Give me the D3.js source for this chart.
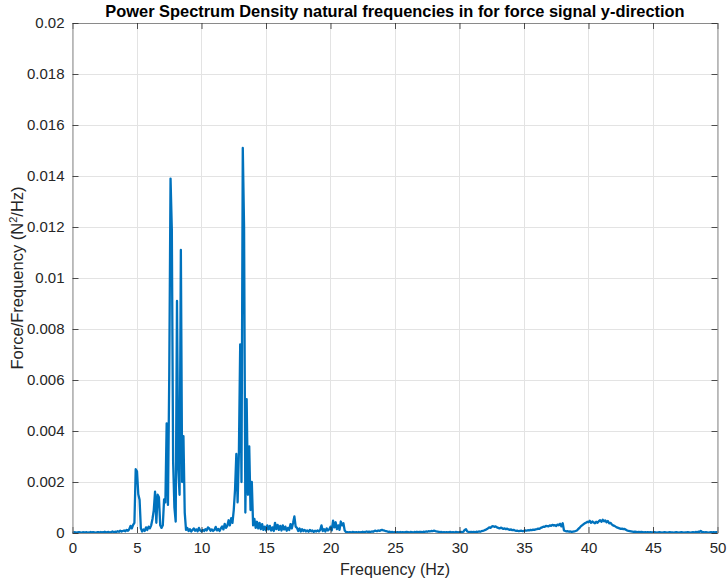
<!DOCTYPE html>
<html>
<head>
<meta charset="utf-8">
<script src="https://cdn.jsdelivr.net/npm/d3@7"></script>
<style>
  html, body { margin: 0; padding: 0; background: #fff; }
  svg { display: block; font-family: "Liberation Sans", Arial, Helvetica, sans-serif; }
</style>
</head>
<body>
<svg id="chart" width="727" height="579"></svg>
<script>
// PSD of the y-direction force signal, sampled every 0.1 Hz from 0 to 50 Hz (N^2/Hz)
const freqStep = 0.1;
const psd = [
  0.00004,0.00002,0.00003,0.00001,0.00002,0.00003,0.00002,0.00001,0.00003,0.00002, // 0 Hz
  0.00002,0.00003,0.00001,0.00002,0.00004,0.00002,0.00003,0.00002,0.00001,0.00003, // 1
  0.00003,0.00002,0.00004,0.00002,0.00003,0.00005,0.00002,0.00003,0.00004,0.00002, // 2
  0.00004,0.00006,0.00003,0.00005,0.00004,0.00007,0.00005,0.00009,0.00006,0.00008, // 3
  0.00010,0.00007,0.00012,0.00009,0.00015,0.00028,0.00018,0.00032,0.00040,0.00250, // 4
  0.00242,0.00152,0.00130,0.00018,0.00006,0.00014,0.00008,0.00022,0.00012,0.00025, // 5
  0.00018,0.00030,0.00055,0.00090,0.00162,0.00040,0.00150,0.00140,0.00030,0.00020, // 6
  0.00030,0.00132,0.00120,0.00430,0.00110,0.00620,0.01390,0.01190,0.00280,0.00100, // 7
  0.00045,0.00910,0.00250,0.00150,0.01110,0.00200,0.00380,0.00080,0.00012,0.00020, // 8
  0.00008,0.00015,0.00006,0.00012,0.00018,0.00009,0.00014,0.00007,0.00020,0.00010, // 9
  0.00006,0.00012,0.00008,0.00015,0.00010,0.00022,0.00018,0.00009,0.00014,0.00008, // 10
  0.00012,0.00024,0.00010,0.00016,0.00008,0.00018,0.00026,0.00014,0.00036,0.00020, // 11
  0.00028,0.00050,0.00030,0.00058,0.00040,0.00090,0.00170,0.00310,0.00120,0.00320, // 12
  0.00740,0.00200,0.01510,0.01200,0.00080,0.00525,0.00150,0.00340,0.00090,0.00200, // 13
  0.00030,0.00055,0.00020,0.00044,0.00018,0.00040,0.00015,0.00035,0.00012,0.00025, // 14
  0.00010,0.00030,0.00014,0.00028,0.00010,0.00022,0.00008,0.00040,0.00015,0.00032, // 15
  0.00012,0.00028,0.00010,0.00030,0.00014,0.00025,0.00009,0.00020,0.00012,0.00035, // 16
  0.00018,0.00040,0.00065,0.00025,0.00020,0.00008,0.00018,0.00006,0.00015,0.00008, // 17
  0.00012,0.00006,0.00010,0.00005,0.00012,0.00007,0.00010,0.00004,0.00009,0.00006, // 18
  0.00010,0.00006,0.00012,0.00030,0.00008,0.00015,0.00006,0.00018,0.00010,0.00014, // 19
  0.00025,0.00010,0.00048,0.00022,0.00042,0.00015,0.00030,0.00012,0.00045,0.00030, // 20
  0.00038,0.00010,0.00004,0.00003,0.00002,0.00003,0.00002,0.00004,0.00003,0.00002, // 21
  0.00003,0.00002,0.00004,0.00002,0.00003,0.00005,0.00003,0.00004,0.00006,0.00004, // 22
  0.00005,0.00004,0.00006,0.00005,0.00008,0.00009,0.00007,0.00010,0.00008,0.00011, // 23
  0.00012,0.00010,0.00009,0.00007,0.00006,0.00004,0.00005,0.00003,0.00004,0.00002, // 24
  0.00003,0.00002,0.00003,0.00002,0.00004,0.00002,0.00003,0.00002,0.00003,0.00004, // 25
  0.00003,0.00002,0.00004,0.00003,0.00002,0.00004,0.00003,0.00005,0.00003,0.00004, // 26
  0.00004,0.00003,0.00005,0.00004,0.00006,0.00005,0.00007,0.00006,0.00008,0.00007, // 27
  0.00009,0.00008,0.00006,0.00005,0.00004,0.00003,0.00004,0.00002,0.00003,0.00002, // 28
  0.00003,0.00002,0.00003,0.00004,0.00002,0.00003,0.00002,0.00004,0.00003,0.00002, // 29
  0.00003,0.00004,0.00003,0.00005,0.00012,0.00015,0.00006,0.00004,0.00003,0.00004, // 30
  0.00003,0.00004,0.00003,0.00005,0.00004,0.00006,0.00005,0.00007,0.00008,0.00010, // 31
  0.00012,0.00015,0.00018,0.00022,0.00020,0.00025,0.00027,0.00024,0.00026,0.00022, // 32
  0.00020,0.00018,0.00021,0.00019,0.00016,0.00018,0.00015,0.00017,0.00014,0.00012, // 33
  0.00014,0.00011,0.00012,0.00010,0.00008,0.00009,0.00007,0.00008,0.00009,0.00007, // 34
  0.00008,0.00010,0.00009,0.00011,0.00010,0.00012,0.00011,0.00013,0.00012,0.00014, // 35
  0.00015,0.00017,0.00016,0.00020,0.00022,0.00025,0.00024,0.00028,0.00027,0.00026, // 36
  0.00030,0.00028,0.00032,0.00029,0.00031,0.00027,0.00033,0.00030,0.00036,0.00026, // 37
  0.00038,0.00010,0.00008,0.00006,0.00007,0.00005,0.00006,0.00004,0.00005,0.00006, // 38
  0.00008,0.00010,0.00015,0.00020,0.00026,0.00030,0.00034,0.00038,0.00040,0.00044, // 39
  0.00042,0.00048,0.00040,0.00045,0.00041,0.00038,0.00044,0.00040,0.00046,0.00050, // 40
  0.00044,0.00052,0.00046,0.00049,0.00042,0.00047,0.00038,0.00040,0.00034,0.00030, // 41
  0.00028,0.00025,0.00022,0.00020,0.00018,0.00016,0.00017,0.00015,0.00016,0.00013, // 42
  0.00010,0.00008,0.00007,0.00006,0.00005,0.00004,0.00005,0.00004,0.00003,0.00004, // 43
  0.00003,0.00004,0.00003,0.00002,0.00003,0.00002,0.00003,0.00002,0.00003,0.00002, // 44
  0.00002,0.00003,0.00002,0.00001,0.00002,0.00003,0.00002,0.00001,0.00002,0.00003, // 45
  0.00002,0.00001,0.00002,0.00003,0.00002,0.00002,0.00001,0.00002,0.00003,0.00002, // 46
  0.00001,0.00002,0.00003,0.00002,0.00001,0.00002,0.00002,0.00003,0.00002,0.00001, // 47
  0.00002,0.00003,0.00002,0.00004,0.00003,0.00005,0.00004,0.00008,0.00004,0.00003, // 48
  0.00002,0.00003,0.00002,0.00001,0.00002,0.00003,0.00002,0.00003,0.00002,0.00003, // 49
  0.00002                                                                          // 50
];

const xTicks = [0, 5, 10, 15, 20, 25, 30, 35, 40, 45, 50];
const xTickLabels = ["0", "5", "10", "15", "20", "25", "30", "35", "40", "45", "50"];
const yTicks = [0, 0.002, 0.004, 0.006, 0.008, 0.01, 0.012, 0.014, 0.016, 0.018, 0.02];
const yTickLabels = ["0", "0.002", "0.004", "0.006", "0.008", "0.01", "0.012", "0.014", "0.016", "0.018", "0.02"];

const titleText = "Power Spectrum Density natural frequencies in for force signal y-direction";
const xLabelText = "Frequency (Hz)";

const margin = { top: 23, right: 9.5, bottom: 46, left: 72.5 };
const W = 727, H = 579;
const innerW = W - margin.left - margin.right;
const innerH = H - margin.top - margin.bottom;

const svg = d3.select("#chart");
const g = svg.append("g").attr("transform", `translate(${margin.left},${margin.top})`);

const x = d3.scaleLinear().domain([0, 50]).range([0, innerW]);
const y = d3.scaleLinear().domain([0, 0.02]).range([innerH, 0]);

const axisColor = "#262626";
const gridColor = "#e3e3e3";
const tickLen = 6;

// grid lines
g.append("g").selectAll("line.gx").data(xTicks).join("line")
  .attr("x1", d => x(d)).attr("x2", d => x(d)).attr("y1", 0).attr("y2", innerH)
  .attr("stroke", gridColor).attr("stroke-width", 1).attr("shape-rendering", "crispEdges");
g.append("g").selectAll("line.gy").data(yTicks).join("line")
  .attr("x1", 0).attr("x2", innerW).attr("y1", d => y(d)).attr("y2", d => y(d))
  .attr("stroke", gridColor).attr("stroke-width", 1).attr("shape-rendering", "crispEdges");

// spectrum line
const data = psd.map((v, i) => ({ f: i * freqStep, v }));
const line = d3.line().x(d => x(d.f)).y(d => y(d.v));
g.append("path").datum(data)
  .attr("fill", "none").attr("stroke", "#0072BD").attr("stroke-width", 2.3)
  .attr("stroke-linejoin", "round").attr("d", line);

// axes (bottom/left with labels, top/right mirrored ticks only)
const xAxisB = d3.axisBottom(x).tickValues(xTicks).tickFormat((d, i) => xTickLabels[i])
  .tickSizeInner(-tickLen).tickSizeOuter(0).tickPadding(9);
const xAxisT = d3.axisTop(x).tickValues(xTicks).tickFormat("")
  .tickSizeInner(-tickLen).tickSizeOuter(0);
const yAxisL = d3.axisLeft(y).tickValues(yTicks).tickFormat((d, i) => yTickLabels[i])
  .tickSizeInner(-tickLen).tickSizeOuter(0).tickPadding(8);
const yAxisR = d3.axisRight(y).tickValues(yTicks).tickFormat("")
  .tickSizeInner(-tickLen).tickSizeOuter(0);

function styleAxis(sel) {
  sel.select(".domain").attr("stroke", "#8a8a8a").attr("stroke-width", 1);
  sel.selectAll(".tick line").attr("stroke", axisColor).attr("stroke-width", 0.8);
  sel.selectAll(".tick text").attr("fill", "#262626").attr("font-size", 15)
    .attr("font-family", "'Liberation Sans', Arial, Helvetica, sans-serif");
}

g.append("g").attr("transform", `translate(0,${innerH})`).call(xAxisB).call(styleAxis);
g.append("g").call(xAxisT).call(styleAxis);
g.append("g").call(yAxisL).call(styleAxis);
g.append("g").attr("transform", `translate(${innerW},0)`).call(yAxisR).call(styleAxis);

// title
svg.append("text")
  .attr("x", margin.left + innerW / 2).attr("y", 17)
  .attr("text-anchor", "middle").attr("font-size", 16.4).attr("font-weight", "bold")
  .attr("fill", "#000").text(titleText);

// x label
svg.append("text")
  .attr("x", margin.left + innerW / 2).attr("y", 575)
  .attr("text-anchor", "middle").attr("font-size", 16).attr("fill", "#262626")
  .text(xLabelText);

// y label with superscript
const yl = svg.append("text")
  .attr("transform", `translate(23,${margin.top + innerH / 2}) rotate(-90)`)
  .attr("text-anchor", "middle").attr("font-size", 16.5).attr("fill", "#262626");
yl.append("tspan").text("Force/Frequency (N");
yl.append("tspan").attr("font-size", 11).attr("dy", -6).text("2");
yl.append("tspan").attr("dy", 6).text("/Hz)");
</script>
</body>
</html>
